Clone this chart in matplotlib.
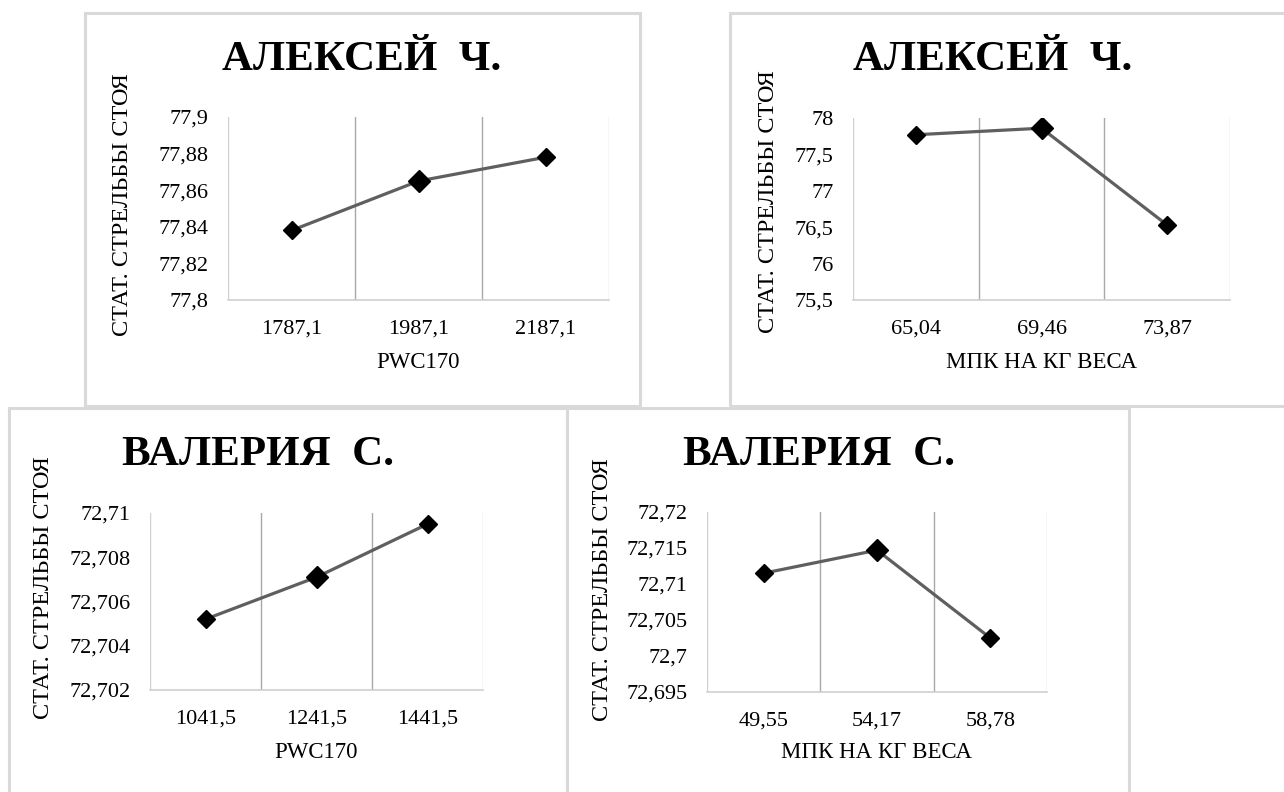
import matplotlib
matplotlib.use("Agg")
import matplotlib.pyplot as plt
from matplotlib.patches import Rectangle

# ---------------- data ----------------
titles = ["АЛЕКСЕЙ  Ч.", "АЛЕКСЕЙ  Ч.", "ВАЛЕРИЯ  С.", "ВАЛЕРИЯ  С."]
y_title = "СТАТ. СТРЕЛЬБЫ СТОЯ"
x_titles = ["PWC170", "МПК НА КГ ВЕСА", "PWC170", "МПК НА КГ ВЕСА"]

aleksey_pwc_labels = ["1787,1", "1987,1", "2187,1"]
aleksey_pwc_values = [77.838, 77.865, 77.878]
aleksey_mpk_labels = ["65,04", "69,46", "73,87"]
aleksey_mpk_values = [77.77, 77.86, 76.53]
valeria_pwc_labels = ["1041,5", "1241,5", "1441,5"]
valeria_pwc_values = [72.7052, 72.7071, 72.7095]
valeria_mpk_labels = ["49,55", "54,17", "58,78"]
valeria_mpk_values = [72.7115, 72.7147, 72.7025]

p1_yticks = [77.8, 77.82, 77.84, 77.86, 77.88, 77.9]
p1_ylabels = ["77,8", "77,82", "77,84", "77,86", "77,88", "77,9"]
p2_yticks = [75.5, 76.0, 76.5, 77.0, 77.5, 78.0]
p2_ylabels = ["75,5", "76", "76,5", "77", "77,5", "78"]
p3_yticks = [72.702, 72.704, 72.706, 72.708, 72.71]
p3_ylabels = ["72,702", "72,704", "72,706", "72,708", "72,71"]
p4_yticks = [72.695, 72.7, 72.705, 72.71, 72.715, 72.72]
p4_ylabels = ["72,695", "72,7", "72,705", "72,71", "72,715", "72,72"]

# ---------------- layout (pixels) ----------------
W, H = 1284, 792
plt.rcParams['font.family'] = ['Liberation Serif', 'DejaVu Serif']

fig = plt.figure(figsize=(W / 100, H / 100), dpi=100)
fig.patch.set_facecolor('white')

panels = [
    dict(border=(85, 13, 640, 406), plot=(228, 117, 609, 300), title=(362, 60),
         ylab=(123, 205), xlab_y=362,
         labels=aleksey_pwc_labels, values=aleksey_pwc_values,
         yt=p1_yticks, yl=p1_ylabels),
    dict(border=(730, 13, 1292, 406), plot=(853, 118, 1230, 300), title=(993, 60),
         ylab=(768, 202), xlab_y=362,
         labels=aleksey_mpk_labels, values=aleksey_mpk_values,
         yt=p2_yticks, yl=p2_ylabels),
    dict(border=(9, 408, 567, 800), plot=(150, 513, 483, 690), title=(258, 455),
         ylab=(43, 588), xlab_y=753,
         labels=valeria_pwc_labels, values=valeria_pwc_values,
         yt=p3_yticks, yl=p3_ylabels),
    dict(border=(567, 408, 1129, 800), plot=(707, 512, 1047, 692), title=(819, 455),
         ylab=(602, 590), xlab_y=753,
         labels=valeria_mpk_labels, values=valeria_mpk_values,
         yt=p4_yticks, yl=p4_ylabels),
]

for i, p in enumerate(panels):
    l, t, r, b = p['border']
    fig.patches.append(Rectangle((l / W, 1 - b / H), (r - l) / W, (b - t) / H,
                                 transform=fig.transFigure, fill=False,
                                 edgecolor='#d9d9d9', lw=2.2, zorder=0))
    pl, pt, pr, pb = p['plot']
    ax = fig.add_axes([pl / W, 1 - pb / H, (pr - pl) / W, (pb - pt) / H])
    ax.set_facecolor('none')
    n = len(p['labels'])
    xs = list(range(n))
    sizes = [8.7, 11.2, 8.7]
    ax.plot(xs, p['values'], color='#5f5f5f', lw=2.3, zorder=3)
    for x, v, s in zip(xs, p['values'], sizes):
        ax.plot([x], [v], marker='D', ms=s, color='black', mec='black', zorder=4, ls='none')
    ax.set_xlim(-0.5, n - 0.5)
    ax.set_ylim(p['yt'][0], p['yt'][-1])
    ax.set_yticks(p['yt'])
    ax.set_yticklabels(p['yl'])
    ax.set_xticks(xs)
    ax.set_xticklabels(p['labels'])
    ax.tick_params(axis='y', length=0, pad=14, labelsize=16)
    ax.tick_params(axis='x', length=0, pad=14, labelsize=16)
    for k in range(n + 1):
        edge = (k == 0 or k == n)
        ax.axvline(k - 0.5, color='#d0d0d0' if edge else '#a8a8a8', lw=1.0, zorder=1)
    for s in ['top', 'left', 'right']:
        ax.spines[s].set_visible(False)
    ax.spines['bottom'].set_color('#d0d0d0')
    ax.spines['bottom'].set_linewidth(1.2)

    # title
    tx, ty = p['title']
    ax.set_title(titles[i], x=(tx - pl) / (pr - pl), y=(pb - ty) / (pb - pt), pad=0,
                 va='center', ha='center', fontsize=31, fontweight='bold')
    # y label
    yx, yy = p['ylab']
    ax.set_ylabel(y_title, fontsize=17.5, va='center')
    ax.yaxis.set_label_coords((yx - pl) / (pr - pl), (pb - yy) / (pb - pt))
    # x label
    ax.set_xlabel(x_titles[i], fontsize=16.5, va='center')
    ax.xaxis.set_label_coords(0.5, (pb - p['xlab_y']) / (pb - pt))

fig.savefig('out.png', dpi=100, facecolor='white')
